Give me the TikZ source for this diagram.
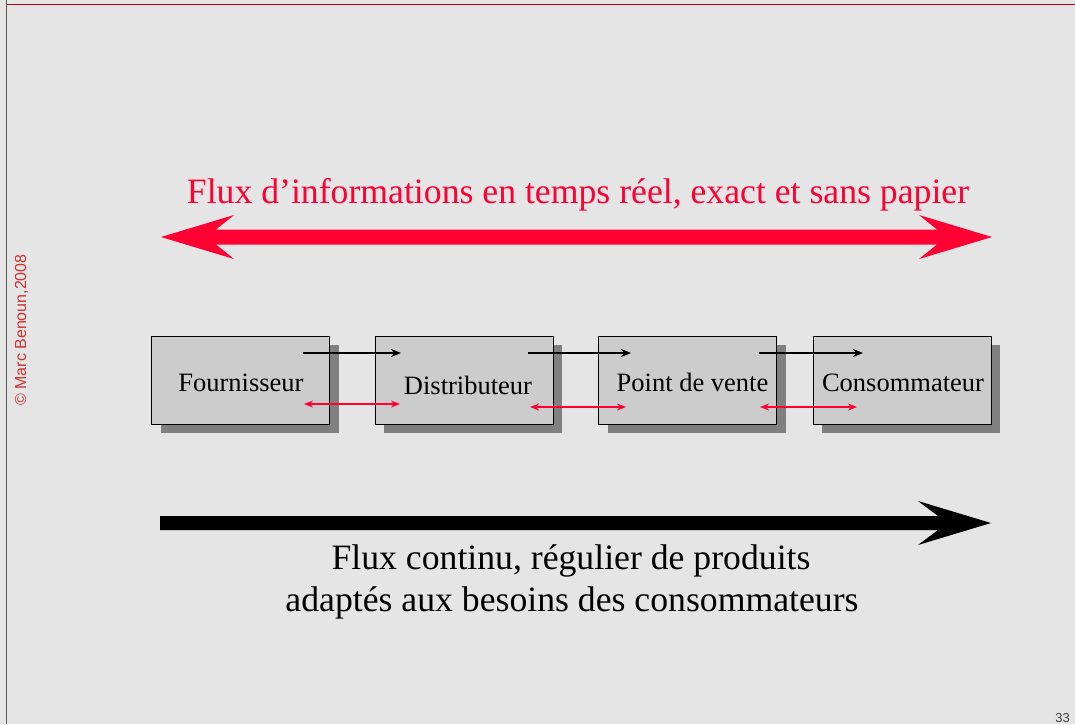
\documentclass[tikz,border=0pt]{standalone}
\usepackage{fontspec}
\setmainfont{Liberation Serif}
\newfontfamily\sansf{Liberation Sans}
\usetikzlibrary{arrows.meta,shadows}
\definecolor{bggray}{HTML}{E5E5E5}
\definecolor{boxgray}{HTML}{CCCCCC}
\definecolor{shadowgray}{HTML}{808080}
\definecolor{fluxred}{HTML}{FF0033}
\definecolor{copyred}{HTML}{CC3333}
\definecolor{framegray}{HTML}{5A5A5A}
\tikzset{
  boxst/.style={draw=black, line width=1pt, fill=boxgray, minimum width=178pt, minimum height=88pt, inner sep=0pt,
    general shadow={fill=shadowgray, shadow xshift=9pt, shadow yshift=-9pt}},
  boxtext/.style={anchor=base, inner sep=0pt, font=\fontsize{26.5}{30}\selectfont},
  bigtext/.style={anchor=base, inner sep=0pt, font=\fontsize{35.7}{40}\selectfont},
  blackarr/.style={line width=2pt, -{Stealth[length=10pt,width=8pt]}},
  redarr/.style={line width=1.6pt, draw=fluxred, {Stealth[length=9pt,width=7pt]}-{Stealth[length=9pt,width=7pt]}}
}
\begin{document}
\begin{tikzpicture}[x=1pt,y=-1pt]
\useasboundingbox (0,0) rectangle (1075,724);
\fill[bggray] (0,0) rectangle (1075,724);
% frame
\draw[framegray, line width=1.5pt] (6.5,0) -- (6.5,724);
\draw[fluxred!75!black, line width=1.6pt] (7,4.5) -- (1075,4.5);
% copyright
\node[rotate=90, text=copyred, font=\sansf\fontsize{16}{18}\selectfont, inner sep=0pt] (copy) at (21.5,330) {© Marc Benoun,2008};
% page number
\node[anchor=base east, text=black!75, font=\sansf\fontsize{13}{15}\selectfont, inner sep=0pt] (pnum) at (1070,722) {33};
% title
\node[bigtext, text=fluxred] (title) at (578,203) {Flux d’informations en temps réel, exact et sans papier};
% red big double arrow
\fill[fluxred] (161,237) -- (234,215) -- (216,229.5) -- (937,229.5) -- (919,215) -- (992,237)
  -- (919,259) -- (937,244.5) -- (216,244.5) -- (234,259) -- cycle;
% black big arrow
\fill[black] (160,516) -- (938,516) -- (918,501) -- (991,523) -- (918,545) -- (938,530) -- (160,530) -- cycle;
% bottom text
\node[bigtext] (bt1) at (571,569) {Flux continu, régulier de produits};
\node[bigtext] (bt2) at (572,611.5) {adaptés aux besoins des consommateurs};
% boxes
\node[boxst] (b1) at (240.9,380) {};
\node[boxst] (b2) at (464.4,380) {};
\node[boxst] (b3) at (687.9,380) {};
\node[boxst] (b4) at (902.4,380) {};
\node[boxtext] (t1) at (241,391) {Fournisseur};
\node[boxtext] (t2) at (468,394) {Distributeur};
\node[boxtext] (t3) at (692.5,391) {Point de vente};
\node[boxtext] (t4) at (903,391) {Consommateur};
% small arrows
\coordinate (k1a) at (303,353); \coordinate (k1b) at (401,353);
\coordinate (k2a) at (528,353); \coordinate (k2b) at (631,353);
\coordinate (k3a) at (759,353); \coordinate (k3b) at (863,353);
\draw[blackarr] (k1a) -- (k1b);
\draw[blackarr] (k2a) -- (k2b);
\draw[blackarr] (k3a) -- (k3b);
\coordinate (r1a) at (304,404); \coordinate (r1b) at (400,404);
\coordinate (r2a) at (530,407); \coordinate (r2b) at (626,407);
\coordinate (r3a) at (760,407); \coordinate (r3b) at (857,407);
\draw[redarr] (r1a) -- (r1b);
\draw[redarr] (r2a) -- (r2b);
\draw[redarr] (r3a) -- (r3b);
\end{tikzpicture}
\end{document}
